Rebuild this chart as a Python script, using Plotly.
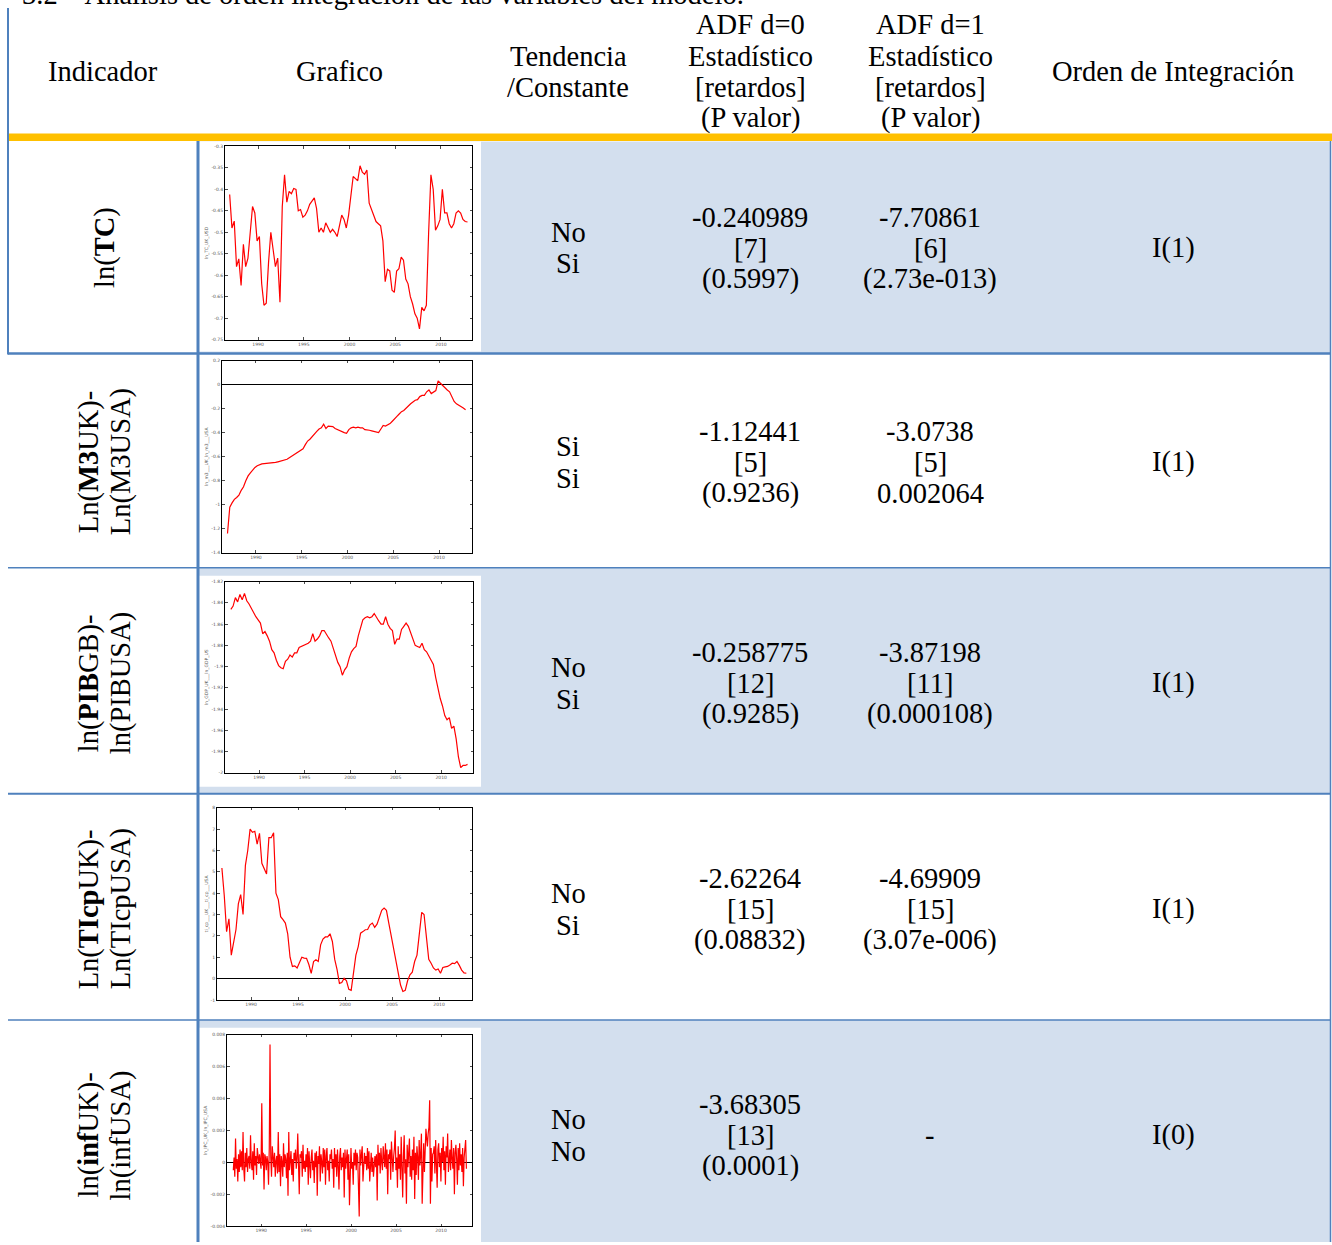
import numpy as np
import plotly.graph_objects as go

W, H = 1332, 1245

# ---------------- table content ----------------
TITLE = "3.2 – Análisis de orden integración de las variables del modelo."
HEAD_INDICADOR = "Indicador"
HEAD_GRAFICO = "Grafico"
HEAD_TEND = ["Tendencia", "/Constante"]
HEAD_ADF0 = ["ADF d=0", "Estadístico", "[retardos]", "(P valor)"]
HEAD_ADF1 = ["ADF d=1", "Estadístico", "[retardos]", "(P valor)"]
HEAD_ORDEN = "Orden de Integración"

INDICATORS = [
    ["ln(<b>TC</b>)"],
    ["Ln(<b>M3</b>UK)-", "Ln(M3USA)"],
    ["ln(<b>PIB</b>GB)-", "ln(PIBUSA)"],
    ["Ln(<b>TIcp</b>UK)-", "Ln(TIcpUSA)"],
    ["ln(<b>inf</b>UK)-", "ln(infUSA)"],
]
TREND = [["No", "Si"], ["Si", "Si"], ["No", "Si"], ["No", "Si"], ["No", "No"]]
ADF0 = [["-0.240989", "[7]", "(0.5997)"],
        ["-1.12441", "[5]", "(0.9236)"],
        ["-0.258775", "[12]", "(0.9285)"],
        ["-2.62264", "[15]", "(0.08832)"],
        ["-3.68305", "[13]", "(0.0001)"]]
ADF1 = [["-7.70861", "[6]", "(2.73e-013)"],
        ["-3.0738", "[5]", "0.002064"],
        ["-3.87198", "[11]", "(0.000108)"],
        ["-4.69909", "[15]", "(3.07e-006)"],
        ["-"]]
ORDER = ["I(1)", "I(1)", "I(1)", "I(1)", "I(0)"]

# ---------------- mini-chart series (quarterly from 1986.9) ----------------
T0_YEAR = 1986.9
TC_LN = [-0.412, -0.49, -0.474, -0.58, -0.562, -0.624, -0.528, -0.58, -0.56, -0.508,
         -0.44, -0.455, -0.52, -0.51, -0.62, -0.67, -0.665, -0.57, -0.50, -0.54,
         -0.58, -0.56, -0.663, -0.44, -0.366, -0.43, -0.405, -0.41, -0.398, -0.40,
         -0.45, -0.447, -0.465, -0.46, -0.45, -0.435, -0.427, -0.42, -0.445, -0.50,
         -0.49, -0.50, -0.478, -0.49, -0.50, -0.493, -0.50, -0.51, -0.485, -0.46,
         -0.47, -0.49, -0.46, -0.412, -0.37, -0.375, -0.38, -0.345, -0.36, -0.365,
         -0.355, -0.432, -0.445, -0.46, -0.475, -0.48, -0.485, -0.52, -0.615, -0.586,
         -0.59, -0.635, -0.64, -0.59, -0.585, -0.558, -0.565, -0.609, -0.62, -0.65,
         -0.667, -0.69, -0.70, -0.725, -0.675, -0.683, -0.67, -0.50, -0.366, -0.40,
         -0.495, -0.485, -0.47, -0.40, -0.455, -0.455, -0.48, -0.49, -0.48, -0.455,
         -0.45, -0.455, -0.47, -0.475, -0.476]
M3_DIFF = [-1.24, -1.02, -0.985, -0.955, -0.94, -0.92, -0.88, -0.85, -0.80, -0.76,
           -0.735, -0.71, -0.69, -0.675, -0.665, -0.66, -0.658, -0.657, -0.655, -0.653,
           -0.652, -0.648, -0.643, -0.638, -0.633, -0.63, -0.622, -0.61, -0.597, -0.585,
           -0.575, -0.56, -0.545, -0.535, -0.50, -0.47, -0.455, -0.43, -0.41, -0.39,
           -0.37, -0.36, -0.33, -0.365, -0.345, -0.345, -0.35, -0.365, -0.375, -0.385,
           -0.39, -0.40, -0.405, -0.375, -0.36, -0.355, -0.36, -0.355, -0.36, -0.36,
           -0.375, -0.375, -0.38, -0.385, -0.39, -0.40, -0.40, -0.37, -0.34, -0.345,
           -0.335, -0.325, -0.305, -0.28, -0.265, -0.245, -0.225, -0.215, -0.195, -0.18,
           -0.16, -0.145, -0.13, -0.125, -0.10, -0.09, -0.09, -0.06, -0.045, -0.075,
           -0.06, -0.05, 0.03, 0.01, -0.01, -0.03, -0.045, -0.06, -0.10, -0.14,
           -0.16, -0.17, -0.18, -0.195, -0.21]
GDP_DIFF = [-1.846, -1.843, -1.835, -1.839, -1.832, -1.837, -1.831, -1.838, -1.841, -1.845,
            -1.85, -1.853, -1.856, -1.859, -1.869, -1.867, -1.871, -1.876, -1.884, -1.887,
            -1.894, -1.899, -1.901, -1.902, -1.895, -1.893, -1.889, -1.891, -1.887, -1.887,
            -1.882, -1.881, -1.88, -1.879, -1.878, -1.876, -1.869, -1.876, -1.874, -1.871,
            -1.866, -1.866, -1.87, -1.873, -1.876, -1.883, -1.891, -1.896, -1.9, -1.908,
            -1.903, -1.90, -1.892, -1.886, -1.883, -1.881, -1.871, -1.863, -1.856, -1.854,
            -1.853, -1.854, -1.853, -1.85, -1.854, -1.857, -1.86, -1.86, -1.853, -1.86,
            -1.864, -1.866, -1.879, -1.874, -1.874, -1.865, -1.862, -1.859, -1.862, -1.868,
            -1.874, -1.88, -1.881, -1.882, -1.878, -1.884, -1.886, -1.89, -1.893, -1.898,
            -1.91, -1.922, -1.93, -1.937, -1.946, -1.95, -1.948, -1.958, -1.956, -1.968,
            -1.985, -1.995, -1.993, -1.993, -1.992]
TICP_DIFF = [5.18, 3.9, 2.2, 2.8, 1.1, 1.8, 2.3, 3.5, 3.93, 3.0,
             5.3, 6.0, 7.0, 6.85, 6.9, 6.3, 6.8, 5.4, 5.1, 4.9,
             6.6, 6.6, 6.83, 4.0, 3.7, 2.9, 2.76, 2.6, 2.1, 1.0,
             0.57, 0.6, 0.5, 0.72, 1.0, 0.96, 0.95, 0.66, 0.25, 0.8,
             0.88, 0.8, 1.58, 1.85, 1.95, 1.95, 2.1, 1.74, 0.9, 0.42,
             -0.22, -0.18, 0.02, -0.1, -0.5, -0.55, 0.25, 1.1, 1.5, 2.13,
             2.2, 2.29, 2.3, 2.52, 2.6, 2.4, 2.55, 2.85, 3.2, 3.3,
             3.2, 2.6, 2.0, 1.55, 0.85, 0.2, -0.3, -0.6, -0.55, -0.1,
             0.18, 0.3, 0.8, 1.1, 2.13, 3.1, 3.0, 1.8, 0.9, 0.72,
             0.5, 0.4, 0.45, 0.25, 0.52, 0.55, 0.57, 0.64, 0.72, 0.7,
             0.8, 0.62, 0.4, 0.27, 0.25]
# monthly, in units of 1e-4
INF_DIFF_E4 = [
    -5, 3, -9, 15, -4, 2, -12, 5, -6, 8, -3, 7,
    -5, 19, -4, -12, 6, -3, 9, -6, 2, 4, -4, 17,
    0, -5, 7, -11, 12, -2, 4, -8, 9, 0, -1, 5,
    2, -4, 37, -2, 6, -17, 5, 3, -5, 4, 0, -14,
    9, 74, 3, -9, 10, 4, -3, 6, -9, 1, 4, -7,
    19, -6, 5, -15, 4, 0, -9, 12, -3, 5, 2, -10,
    6, -21, 19, -5, 0, 7, -8, 2, -12, 6, 1, 8,
    -4, 2, 18, -6, -20, 5, 3, 7, -9, 11, -4, 1,
    -6, 5, -3, 9, -14, 7, 0, -10, 3, 8, -5, 1,
    -13, 6, -3, 7, -21, 4, -1, 10, -12, 5, 0, -7,
    9, -3, 8, -14, 4, 9, -5, 1, -12, 5, 2, 8,
    -4, 2, -16, 9, -3, 5, -9, 8, -2, -17, 4, 9,
    -5, 3, -3, 6, -22, 8, -4, 0, 8, -11, 5, -27,
    5, 9, -4, 0, -14, 6, -2, 8, -5, 6, 3, -12,
    -34, 8, -2, 5, 10, -12, 3, 6, -1, 4, -5, 9,
    -4, 7, -12, 2, 6, -6, 3, -9, 1, 4, -3, 5,
    -24, 11, -2, 6, -7, 9, 0, -5, 10, 2, -3, 12,
    -4, 8, -20, 5, 2, 8, -11, 13, 0, -6, 4, 9,
    20, -5, 3, -16, 10, -4, 5, -11, 16, 0, -22, 4,
    17, -7, 2, -26, 11, -3, 7, 15, -9, 4, -11, 8,
    -5, 16, -23, 6, -8, 10, 3, -11, 14, -2, 5, 18,
    -26, 7, 12, -6, 8, 21, 15, 10, 18, 22, 39, -26,
    9, -12, 5, 6, 10, -7, 14, 3, -16, 8, 12, -3,
    6, -12, 9, 0, 16, -5, 7, -14, 10, 3, 18, -6,
    4, 8, -5, 14, 2, -4, 9, -20, 6, 11, 2, -14,
    9, -5, 12, -2, 5, -6, 9, -15, 3, 13, 14, -4,
]

X_TICKS = [1990, 1995, 2000, 2005, 2010]
X_TICKTEXT = ["1990", "1995", "2000", "2005", "2010"]
Y_TICKS = [
    [-0.75, -0.7, -0.65, -0.6, -0.55, -0.5, -0.45, -0.4, -0.35, -0.3],
    [-1.4, -1.2, -1.0, -0.8, -0.6, -0.4, -0.2, 0, 0.2],
    [-2.0, -1.98, -1.96, -1.94, -1.92, -1.9, -1.88, -1.86, -1.84, -1.82],
    [-1, 0, 1, 2, 3, 4, 5, 6, 7, 8],
    [-0.004, -0.002, 0, 0.002, 0.004, 0.006, 0.008],
]
Y_TICKTEXT = [
    ["-0.75", "-0.7", "-0.65", "-0.6", "-0.55", "-0.5", "-0.45", "-0.4", "-0.35", "-0.3"],
    ["-1.4", "-1.2", "-1", "-0.8", "-0.6", "-0.4", "-0.2", "0", "0.2"],
    ["-2", "-1.98", "-1.96", "-1.94", "-1.92", "-1.9", "-1.88", "-1.86", "-1.84", "-1.82"],
    ["-1", "0", "1", "2", "3", "4", "5", "6", "7", "8"],
    ["-0.004", "-0.002", "0", "0.002", "0.004", "0.006", "0.008"],
]
Y_TITLES = ["ln_TC_UK_USD", "ln_m3___UK_ln_m3___USA", "ln_GDP_UK___ln_GDP_US",
            "ti_cp___UK___ti_cp___USA", "ln_IPC_UK_ln_IPC_USA"]

# ---------------- geometry (pixels) ----------------
ROW_TOP = [140, 353, 568, 795, 1022]
ROW_BOT = [353, 568, 795, 1022, 1245]
ROW_MID = [247, 462, 684, 911, 1138]
CHART_BOX = [(225, 472, 145, 339), (222, 472, 360, 553), (225, 473, 582, 774),
             (217, 472, 809, 1002), (227, 472, 1037, 1229)]
CHART_XR = [(1986.39, 2013.39), (1986.30, 2013.6), (1986.26, 2013.5),
            (1986.38, 2013.5), (1986.2, 2013.44)]
CHART_YR = [(-0.75, -0.3), (-1.4, 0.2), (-2.0, -1.82), (-1, 8), (-0.004, 0.008)]
IMG_BOX = {0: (199, 481, 140, 351), 2: (199, 481, 576, 788), 4: (199, 481, 1030, 1245)}

BLUE = "#4F81BD"
SHADE = "#D3DFEE"
ORANGE = "#FFC000"
FONT = "Liberation Serif"
FS = 28.5


def X(px):
    return px / W


def Y(py):
    return 1 - py / H


shapes = []
annotations = []


def rect(x0, y0, x1, y1, color, layer="below"):
    shapes.append(dict(type="rect", xref="paper", yref="paper",
                       x0=X(x0), x1=X(x1), y0=Y(y1), y1=Y(y0),
                       fillcolor=color, line=dict(width=0), layer=layer))


def hline(x0, x1, y, color, w):
    shapes.append(dict(type="line", xref="paper", yref="paper",
                       x0=X(x0), x1=X(x1), y0=Y(y), y1=Y(y),
                       line=dict(color=color, width=w), layer="above"))


def vline(x, y0, y1, color, w):
    shapes.append(dict(type="line", xref="paper", yref="paper",
                       x0=X(x), x1=X(x), y0=Y(y0), y1=Y(y1),
                       line=dict(color=color, width=w), layer="above"))


def txt(px, py, s, size=FS, angle=0, xanchor="center"):
    annotations.append(dict(x=X(px), y=Y(py), xref="paper", yref="paper", text=s,
                            showarrow=False, xanchor=xanchor, yanchor="middle",
                            textangle=angle,
                            font=dict(family=FONT, size=size, color="#000000")))


# backgrounds
for r in (0, 2, 4):
    rect(199, ROW_TOP[r], 1330, ROW_BOT[r], SHADE)
for r, (x0, x1, y0, y1) in IMG_BOX.items():
    rect(x0, y0, x1, y1, "#FFFFFF")
rect(8, 132, 1332, 139.5, ORANGE, layer="above")

# borders
vline(8, 6, 354, BLUE, 2)
hline(8, 1331, 353, BLUE, 2.5)
hline(8, 1331, 568, BLUE, 1.5)
hline(8, 1331, 795, BLUE, 2)
hline(8, 1331, 1022, BLUE, 1.5)
vline(198, 139.5, 1245, BLUE, 3)
vline(1330.5, 139.5, 1245, BLUE, 1.5)

# title (cut off at top, as in the source page)
txt(20, -8, TITLE, xanchor="left")

# header
txt(103, 70, HEAD_INDICADOR)
txt(339, 70, HEAD_GRAFICO)
txt(568, 55, HEAD_TEND[0])
txt(568, 86, HEAD_TEND[1])
for i, s in enumerate(HEAD_ADF0):
    txt(750, 23 + 31.3 * i, s)
for i, s in enumerate(HEAD_ADF1):
    txt(930, 23 + 31.3 * i, s)
txt(1173, 70, HEAD_ORDEN)

# body
for r in range(5):
    mid = ROW_MID[r]
    lines = INDICATORS[r]
    if len(lines) == 1:
        txt(105, mid, lines[0], angle=-90)
    else:
        txt(89, mid, lines[0], angle=-90)
        txt(121, mid, lines[1], angle=-90)
    txt(568, mid - 16, TREND[r][0])
    txt(568, mid + 16, TREND[r][1])
    for i, s in enumerate(ADF0[r]):
        txt(750, mid + 31 * (i - 1), s)
    if len(ADF1[r]) == 1:
        txt(930, mid, ADF1[r][0])
    else:
        for i, s in enumerate(ADF1[r]):
            txt(930, mid + 31 * (i - 1), s)
    txt(1173, mid, ORDER[r])

# mini charts
series = [TC_LN, M3_DIFF, GDP_DIFF, TICP_DIFF, [v * 1e-4 for v in INF_DIFF_E4]]
fig = go.Figure()
layout_axes = {}
tickfont = dict(family="DejaVu Sans", size=4.5, color="#555555")
for k in range(5):
    vals = series[k]
    if k == 4:
        t = T0_YEAR + np.arange(len(vals)) / 12.0
    else:
        t = T0_YEAR + np.arange(len(vals)) * 0.25
    sx = "" if k == 0 else str(k + 1)
    fig.add_trace(go.Scatter(x=t, y=vals, mode="lines",
                             line=dict(color="#FF0000", width=1.2),
                             xaxis="x" + sx, yaxis="y" + sx,
                             showlegend=False, hoverinfo="skip"))
    x0, x1, y0, y1 = CHART_BOX[k]
    common = dict(showline=True, linecolor="#000000", linewidth=1, mirror="allticks",
                  ticks="inside", ticklen=2.5, tickwidth=0.7, tickcolor="#000000",
                  showgrid=False, tickfont=tickfont, fixedrange=True)
    layout_axes["xaxis" + sx] = dict(common, domain=[X(x0), X(x1)], range=list(CHART_XR[k]),
                                     anchor="y" + sx, tickvals=X_TICKS, ticktext=X_TICKTEXT,
                                     zeroline=False)
    layout_axes["yaxis" + sx] = dict(common, domain=[Y(y1), Y(y0)], range=list(CHART_YR[k]),
                                     anchor="x" + sx, tickvals=Y_TICKS[k], ticktext=Y_TICKTEXT[k],
                                     zeroline=(k in (1, 3, 4)), zerolinecolor="#000000",
                                     zerolinewidth=1.4 if k == 4 else 1,
                                     title=dict(text=Y_TITLES[k], standoff=2,
                                                font=dict(family="DejaVu Sans", size=4.5,
                                                          color="#555555")))

fig.update_layout(width=W, height=H, margin=dict(l=0, r=0, t=0, b=0),
                  paper_bgcolor="#FFFFFF", plot_bgcolor="#FFFFFF",
                  shapes=shapes, annotations=annotations, showlegend=False,
                  **layout_axes)
fig.write_html("out.html", config={"displayModeBar": False, "staticPlot": True},
               post_script="document.body.style.margin='0';document.body.style.padding='0';")
